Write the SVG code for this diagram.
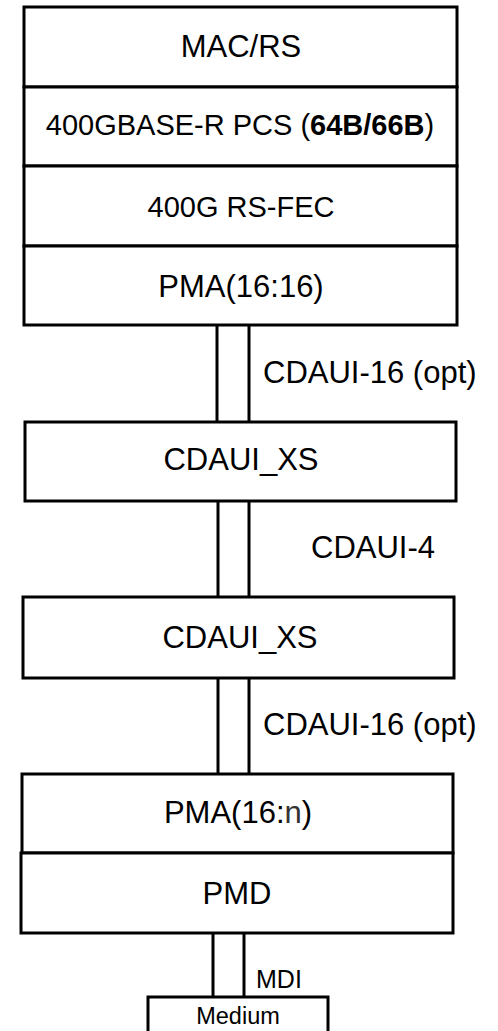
<svg xmlns="http://www.w3.org/2000/svg" width="498" height="1031" viewBox="0 0 498 1031">
  <style>
    .box { fill: #ffffff; stroke: #000000; stroke-width: 3; }
    .wire { fill: none; stroke: #000000; stroke-width: 3; }
    .lbl { font-family: "Liberation Sans", Arial, sans-serif; font-size: 31px; fill: #000000; }
    .mid { text-anchor: middle; }
    .sm { font-size: 29px; }
    .xs { font-size: 25px; }
    .xxs { font-size: 23.5px; }
  </style>

  <!-- interface connectors (pairs of lines between layers) -->
  <g id="connectors">
    <line class="wire" x1="217" y1="325" x2="217" y2="422"/>
    <line class="wire" x1="249" y1="325" x2="249" y2="422"/>
    <line class="wire" x1="218" y1="501" x2="218" y2="597"/>
    <line class="wire" x1="249" y1="501" x2="249" y2="597"/>
    <line class="wire" x1="218" y1="678" x2="218" y2="774"/>
    <line class="wire" x1="249" y1="678" x2="249" y2="774"/>
    <line class="wire" x1="213" y1="933" x2="213" y2="997"/>
    <line class="wire" x1="244" y1="933" x2="244" y2="997"/>
  </g>

  <!-- host-side stack -->
  <g id="mac-rs">
    <rect class="box" x="24" y="7" width="433" height="80"/>
    <text class="lbl mid" x="241" y="57">MAC/RS</text>
  </g>
  <g id="pcs">
    <rect class="box" x="24" y="87" width="433" height="79"/>
    <text class="lbl mid sm" x="240" y="135">400GBASE-R PCS (<tspan font-weight="bold">64B/66B</tspan>)</text>
  </g>
  <g id="rs-fec">
    <rect class="box" x="24" y="166" width="433" height="80"/>
    <text class="lbl mid sm" x="241" y="217">400G RS-FEC</text>
  </g>
  <g id="pma-16-16">
    <rect class="box" x="24" y="246" width="433" height="79"/>
    <text class="lbl mid" x="241" y="297">PMA(16:16)</text>
  </g>

  <!-- CDAUI-16 (opt) label -->
  <g id="cdaui16-a">
    <text class="lbl" x="263" y="383">CDAUI-16 (opt)</text>
  </g>

  <g id="cdaui-xs-1">
    <rect class="box" x="25" y="422" width="431" height="79"/>
    <text class="lbl mid" x="241" y="470">CDAUI_XS</text>
  </g>

  <g id="cdaui4">
    <text class="lbl" x="311" y="558">CDAUI-4</text>
  </g>

  <g id="cdaui-xs-2">
    <rect class="box" x="23" y="597" width="431" height="81"/>
    <text class="lbl mid" x="240" y="648">CDAUI_XS</text>
  </g>

  <g id="cdaui16-b">
    <text class="lbl" x="263" y="735">CDAUI-16 (opt)</text>
  </g>

  <!-- module-side stack -->
  <g id="pma-16-n">
    <rect class="box" x="22" y="774" width="431" height="79"/>
    <text class="lbl mid" x="238" y="823">PMA(16:<tspan fill="#333333">n</tspan>)</text>
  </g>
  <g id="pmd">
    <rect class="box" x="21" y="853" width="432" height="80"/>
    <text class="lbl mid" x="237" y="904">PMD</text>
  </g>

  <g id="mdi">
    <text class="lbl xs" x="256" y="988">MDI</text>
  </g>

  <g id="medium">
    <rect class="box" x="148" y="997" width="180" height="50"/>
    <text class="lbl mid xxs" x="238" y="1024">Medium</text>
  </g>
</svg>
